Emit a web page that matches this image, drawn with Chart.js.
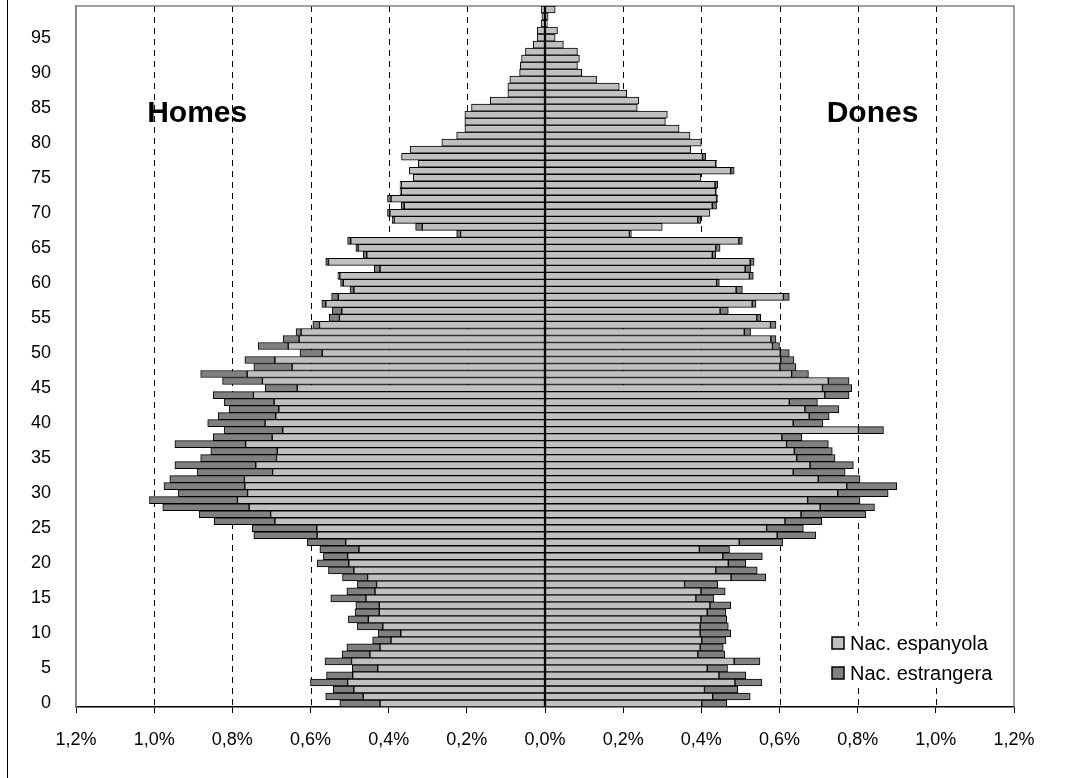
<!DOCTYPE html>
<html><head><meta charset="utf-8">
<script src="https://cdn.jsdelivr.net/npm/chart.js@4/dist/chart.umd.min.js"></script>
<style>html,body{margin:0;padding:0;background:#fff}#wrap{width:1089px;height:778px;position:relative}</style>
</head><body><div id="wrap"><canvas id="c" width="1089" height="778"></canvas></div>
<script>
const ages = [0,1,2,3,4,5,6,7,8,9,10,11,12,13,14,15,16,17,18,19,20,21,22,23,24,25,26,27,28,29,30,31,32,33,34,35,36,37,38,39,40,41,42,43,44,45,46,47,48,49,50,51,52,53,54,55,56,57,58,59,60,61,62,63,64,65,66,67,68,69,70,71,72,73,74,75,76,77,78,79,80,81,82,83,84,85,86,87,88,89,90,91,92,93,94,95,96,97,98,99];
// % of population, Spanish nationality, men (ages 0..99)
const menSpanish = [0.422,0.465,0.489,0.505,0.492,0.428,0.495,0.448,0.422,0.394,0.369,0.415,0.452,0.424,0.424,0.458,0.435,0.431,0.454,0.489,0.502,0.505,0.476,0.510,0.583,0.584,0.691,0.702,0.757,0.787,0.761,0.768,0.769,0.697,0.740,0.687,0.685,0.766,0.698,0.671,0.716,0.689,0.681,0.693,0.746,0.634,0.723,0.762,0.647,0.691,0.570,0.657,0.629,0.624,0.577,0.526,0.520,0.561,0.529,0.489,0.516,0.525,0.422,0.554,0.456,0.478,0.497,0.216,0.314,0.386,0.397,0.360,0.394,0.368,0.368,0.337,0.347,0.324,0.367,0.345,0.264,0.226,0.205,0.205,0.205,0.188,0.140,0.095,0.095,0.090,0.065,0.063,0.060,0.050,0.030,0.020,0.020,0.010,0.008,0.010];
// foreign nationality, men
const menForeign = [0.103,0.096,0.053,0.095,0.067,0.065,0.068,0.071,0.085,0.047,0.058,0.065,0.051,0.062,0.060,0.090,0.072,0.049,0.064,0.065,0.081,0.062,0.100,0.098,0.162,0.165,0.155,0.183,0.221,0.225,0.177,0.207,0.191,0.193,0.207,0.194,0.170,0.181,0.151,0.150,0.147,0.147,0.127,0.128,0.103,0.082,0.102,0.119,0.098,0.077,0.057,0.077,0.041,0.013,0.017,0.026,0.024,0.010,0.017,0.010,0.007,0.005,0.015,0.007,0.009,0.006,0.008,0.010,0.017,0.005,0.006,0.008,0.009,0.003,0.003,0,0,0,0,0,0,0,0,0,0,0,0,0,0,0,0,0,0,0,0,0,0,0,0,0];
// Spanish nationality, women
const womenSpanish = [0.401,0.429,0.408,0.486,0.445,0.415,0.484,0.391,0.397,0.401,0.397,0.397,0.399,0.415,0.422,0.386,0.399,0.357,0.476,0.437,0.469,0.455,0.395,0.497,0.594,0.567,0.614,0.655,0.704,0.672,0.749,0.772,0.699,0.635,0.678,0.644,0.638,0.618,0.606,0.802,0.635,0.676,0.665,0.625,0.716,0.710,0.725,0.631,0.601,0.603,0.602,0.582,0.578,0.510,0.577,0.542,0.448,0.530,0.610,0.489,0.439,0.523,0.512,0.525,0.428,0.437,0.496,0.216,0.300,0.391,0.422,0.428,0.439,0.437,0.435,0.399,0.475,0.437,0.403,0.373,0.400,0.371,0.343,0.308,0.313,0.236,0.240,0.209,0.190,0.132,0.094,0.083,0.088,0.083,0.047,0.026,0.032,0.006,0.008,0.026];
// foreign nationality, women
const womenForeign = [0.064,0.096,0.085,0.069,0.069,0.052,0.066,0.069,0.059,0.062,0.078,0.072,0.066,0.048,0.053,0.046,0.062,0.085,0.089,0.106,0.045,0.101,0.077,0.111,0.099,0.094,0.094,0.166,0.139,0.134,0.129,0.128,0.107,0.133,0.111,0.098,0.097,0.107,0.051,0.064,0.076,0.051,0.087,0.072,0.062,0.075,0.053,0.043,0.041,0.034,0.023,0.018,0.013,0.016,0.014,0.010,0.021,0.010,0.015,0.016,0.007,0.010,0.014,0.010,0.009,0.011,0.009,0.005,0,0.008,0,0.011,0.003,0.002,0.007,0,0.009,0.002,0.008,0,0,0,0,0,0,0,0,0,0,0,0,0,0,0,0,0,0,0,0,0];
const xTickValues = [-1.2,-1.0,-0.8,-0.6,-0.4,-0.2,0,0.2,0.4,0.6,0.8,1.0,1.2];
const gridValues = [-1.0,-0.8,-0.6,-0.4,-0.2,0.2,0.4,0.6,0.8,1.0];
const sideLabels = ['Homes','Dones'];
const seriesNames = ['Nac. espanyola','Nac. estrangera'];
const colLight = '#C0C0C0', colDark = '#808080';
const FONT = '"Liberation Sans", Arial, Helvetica, sans-serif';

const neg = a => a.map(v => -v);

const decor = {
  id: 'decor',
  beforeDatasetsDraw(chart) {
    const {ctx, chartArea: a, scales: {x}} = chart;
    ctx.save();
    ctx.strokeStyle = '#000'; ctx.lineWidth = 1; ctx.setLineDash([6,5]);
    for (const v of gridValues) {
      const px = Math.round(x.getPixelForValue(v)) + 0.5;
      ctx.beginPath(); ctx.moveTo(px, a.top); ctx.lineTo(px, a.bottom); ctx.stroke();
    }
    ctx.setLineDash([]);
    ctx.strokeStyle = '#808080'; ctx.lineWidth = 1.5;
    ctx.beginPath();
    ctx.moveTo(a.left, a.bottom); ctx.lineTo(a.left, a.top); ctx.lineTo(a.right, a.top); ctx.lineTo(a.right, a.bottom);
    ctx.stroke();
    ctx.restore();
  },
  afterDatasetsDraw(chart) {
    const {ctx, chartArea: a, scales: {x}} = chart;
    ctx.save();
    const cx = x.getPixelForValue(0);
    ctx.strokeStyle = '#000'; ctx.lineWidth = 2;
    ctx.beginPath(); ctx.moveTo(cx, a.top); ctx.lineTo(cx, a.bottom); ctx.stroke();
    ctx.fillStyle = '#000';
    ctx.font = 'bold 30px ' + FONT;
    ctx.textAlign = 'center'; ctx.textBaseline = 'alphabetic';
    ctx.fillText(sideLabels[0], x.getPixelForValue(-0.89), 122);
    ctx.fillText(sideLabels[1], x.getPixelForValue(0.838), 122);
    // legend box (white background, no border)
    ctx.fillStyle = '#fff';
    ctx.fillRect(826, 626, 182, 62);
    ctx.font = '20px ' + FONT;
    ctx.textAlign = 'left'; ctx.textBaseline = 'middle';
    const cols = [colLight, colDark];
    for (let i = 0; i < 2; i++) {
      const y = 643 + i * 30;
      ctx.fillStyle = cols[i];
      ctx.fillRect(832, y - 6, 12, 12);
      ctx.strokeStyle = '#000'; ctx.lineWidth = 1.5;
      ctx.strokeRect(832, y - 6, 12, 12);
      ctx.fillStyle = '#000';
      ctx.fillText(seriesNames[i], 850, y + 1);
    }
    ctx.restore();
  },
  afterDraw(chart) {
    const ctx = chart.ctx;
    ctx.save();
    ctx.strokeStyle = '#000'; ctx.lineWidth = 1;
    ctx.beginPath(); ctx.moveTo(7.5, 0); ctx.lineTo(7.5, 778); ctx.stroke();
    ctx.restore();
  }
};

const ds = (label, data, color) => ({
  label, data, backgroundColor: color, borderColor: '#000', borderWidth: 1,
  borderSkipped: false, categoryPercentage: 1, barPercentage: 1, stack: 'p'
});

new Chart(document.getElementById('c'), {
  type: 'bar',
  data: {
    labels: ages,
    datasets: [
      ds(seriesNames[0], neg(menSpanish), colLight),
      ds(seriesNames[1], neg(menForeign), colDark),
      ds(seriesNames[0], womenSpanish, colLight),
      ds(seriesNames[1], womenForeign, colDark)
    ]
  },
  options: {
    indexAxis: 'y',
    responsive: false,
    animation: false,
    devicePixelRatio: 1,
    layout: {padding: {top: 6, right: 75, left: 0, bottom: 0}},
    plugins: {legend: {display: false}, tooltip: {enabled: false}},
    scales: {
      x: {
        stacked: true, min: -1.2, max: 1.2,
        afterBuildTicks(s) { s.ticks = xTickValues.map(v => ({value: v})); },
        afterFit(s) { s.height = 71; s.paddingLeft = 0; s.paddingRight = 0; },
        grid: {drawOnChartArea: false, color: '#000', tickLength: 6, lineWidth: 1},
        border: {color: '#000', width: 1.5},
        ticks: {
          padding: 16, color: '#000', font: {family: FONT, size: 18},
          callback: v => Math.abs(v).toFixed(1).replace('.', ',') + '%'
        }
      },
      y: {
        stacked: true, reverse: true,
        afterFit(s) { s.width = 76; s.paddingTop = 0; s.paddingBottom = 0; },
        grid: {display: false},
        border: {color: '#808080', width: 1.5},
        ticks: {
          autoSkip: false, padding: 17, color: '#000', font: {family: FONT, size: 18},
          callback(v, i) { const a = ages[i]; return a % 5 === 0 ? String(a) : ''; }
        }
      }
    }
  },
  plugins: [decor]
});
</script>
</body></html>
